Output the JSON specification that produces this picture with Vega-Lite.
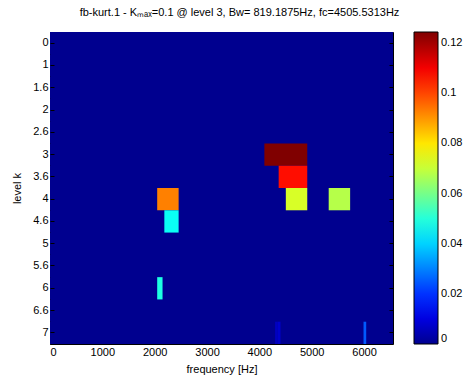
{
  "$schema": "https://vega.github.io/schema/vega-lite/v6.json",
  "autosize": "none",
  "padding": {"left": 50, "top": 32, "right": 70, "bottom": 35},
  "width": 343,
  "height": 312,
  "background": "white",
  "config": {
    "font": "Liberation Sans",
    "view": {"stroke": "black", "strokeWidth": 1, "fill": "#00008f"},
    "axis": {"labelFont": "Liberation Sans", "titleFont": "Liberation Sans", "labelFontSize": 11, "titleFontSize": 11, "titleFontWeight": "normal", "labelColor": "black", "titleColor": "black", "domain": false, "grid": false, "tickColor": "black", "tickSize": -4},
    "legend": {"labelFont": "Liberation Sans", "labelFontSize": 11, "labelColor": "black"}
  },
  "title": {"text": "fb-kurt.1 - Kₘₐₓ=0.1 @ level 3, Bw= 819.1875Hz, fc=4505.5313Hz", "font": "Liberation Sans", "fontSize": 11, "fontWeight": "normal", "color": "black", "anchor": "middle", "frame": "group", "offset": 14, "dx": 18},
  "data": {"values": [
    {"level": "0", "f0": 0, "f1": 6553.5, "kurt": 0},
    {"level": "1", "f0": 0, "f1": 6553.5, "kurt": 0},
    {"level": "1.6", "f0": 0, "f1": 6553.5, "kurt": 0},
    {"level": "2", "f0": 0, "f1": 6553.5, "kurt": 0},
    {"level": "2.6", "f0": 0, "f1": 6553.5, "kurt": 0},
    {"level": "3", "f0": 0, "f1": 6553.5, "kurt": 0},
    {"level": "3.6", "f0": 0, "f1": 6553.5, "kurt": 0},
    {"level": "4", "f0": 0, "f1": 6553.5, "kurt": 0},
    {"level": "4.6", "f0": 0, "f1": 6553.5, "kurt": 0},
    {"level": "5", "f0": 0, "f1": 6553.5, "kurt": 0},
    {"level": "5.6", "f0": 0, "f1": 6553.5, "kurt": 0},
    {"level": "6", "f0": 0, "f1": 6553.5, "kurt": 0},
    {"level": "6.6", "f0": 0, "f1": 6553.5, "kurt": 0},
    {"level": "7", "f0": 0, "f1": 6553.5, "kurt": 0},
    {"level": "3", "f0": 4096.0, "f1": 4915.1, "kurt": 0.1244},
    {"level": "3.6", "f0": 4369.0, "f1": 4915.1, "kurt": 0.107},
    {"level": "4", "f0": 2048.0, "f1": 2457.6, "kurt": 0.0928},
    {"level": "4", "f0": 4505.6, "f1": 4915.2, "kurt": 0.0722},
    {"level": "4", "f0": 5324.8, "f1": 5734.4, "kurt": 0.068},
    {"level": "4.6", "f0": 2184.5, "f1": 2457.6, "kurt": 0.0466},
    {"level": "6", "f0": 2048.0, "f1": 2150.4, "kurt": 0.049},
    {"level": "7", "f0": 4300.8, "f1": 4352.0, "kurt": 0.006},
    {"level": "7", "f0": 4352.0, "f1": 4403.2, "kurt": 0.0075},
    {"level": "7", "f0": 5990.4, "f1": 6041.6, "kurt": 0.025}
  ]},
  "layer": [
    {
      "mark": {"type": "rect", "strokeWidth": 0},
      "encoding": {
        "x": {"field": "f0", "type": "quantitative", "scale": {"domain": [0, 6553.5], "nice": false, "zero": false}, "axis": {"orient": "bottom", "values": [0, 1000, 2000, 3000, 4000, 5000, 6000], "format": "d", "title": "frequency [Hz]", "labelPadding": 6, "titlePadding": 6}},
        "x2": {"field": "f1"},
        "y": {"field": "level", "type": "ordinal", "sort": null, "scale": {"paddingInner": 0, "paddingOuter": 0}, "axis": {"orient": "left", "title": "level k", "labelPadding": 6, "titlePadding": 10}},
        "color": {"field": "kurt", "type": "quantitative", "scale": {"domain": [0, 0.0138, 0.0454, 0.077, 0.1086, 0.1244], "range": ["#00008f", "#0000ff", "#00ffff", "#ffff00", "#ff0000", "#800000"], "interpolate": "rgb"}, "legend": {"title": null, "orient": "right", "offset": 20, "padding": 0, "gradientLength": 312, "gradientThickness": 24, "gradientStrokeColor": "black", "gradientStrokeWidth": 1, "values": [0, 0.02, 0.04, 0.06, 0.08, 0.1, 0.12], "format": "~g", "labelOverlap": false, "labelOffset": 3}}
      }
    },
    {
      "mark": {"type": "rect", "opacity": 0},
      "encoding": {
        "x": {"field": "f0", "type": "quantitative", "axis": {"orient": "top", "values": [0, 1000, 2000, 3000, 4000, 5000, 6000], "labels": false, "title": null}},
        "x2": {"field": "f1"},
        "y": {"field": "level", "type": "ordinal", "sort": null, "axis": {"orient": "right", "labels": false, "title": null}}
      }
    }
  ],
  "resolve": {"axis": {"x": "independent", "y": "independent"}}
}
